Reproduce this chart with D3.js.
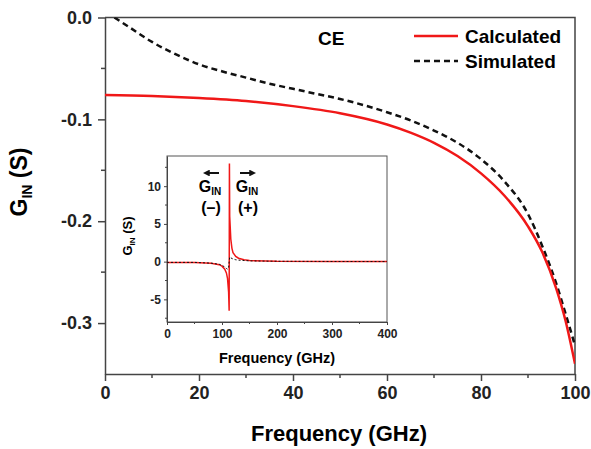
<!DOCTYPE html>
<html>
  <head>
    <meta charset="utf-8">
    <title>GIN vs frequency</title>
    <script src="https://d3js.org/d3.v7.min.js"></script>
    <style>
      body { margin: 0; background: #fff; }
      svg { font-family: Arial, "Liberation Sans", sans-serif; }
      .tick text { font-weight: bold; fill: #222; }
      .domain, .tick line { stroke: #444; }
    </style>
  </head>
  <body>
    <svg id="chart" width="591" height="449"></svg>
    <script>
      // main plot: frequency (GHz) vs G_IN (S)
      var calcFreq = [0, 10, 20, 30, 40, 50, 60, 65, 70, 75, 80, 85, 90, 93, 96, 98, 100];
      var calcG = [-0.076, -0.077, -0.079, -0.082, -0.087, -0.094, -0.105, -0.113, -0.123, -0.136, -0.153, -0.175, -0.205, -0.230, -0.266, -0.298, -0.340];
      var simFreq = [2, 5, 10, 15, 20, 25, 30, 35, 40, 45, 50, 55, 60, 65, 70, 75, 80, 85, 90, 93, 96, 98, 100];
      var simG = [0, -0.009, -0.024, -0.036, -0.046, -0.053, -0.059, -0.065, -0.070, -0.075, -0.080, -0.086, -0.093, -0.101, -0.111, -0.123, -0.139, -0.161, -0.193, -0.224, -0.261, -0.291, -0.322];
      var xTicks = [0, 20, 40, 60, 80, 100];
      var yTicks = [0, -0.1, -0.2, -0.3];
      // inset: wide sweep
      var insetCalcFreq = [0, 50, 80, 95, 100, 105, 108, 110, 112, 113, 113.5, 114, 116, 118, 120, 125, 130, 140, 150, 200, 300, 400];
      var insetCalcG = [-0.1, -0.1, -0.2, -0.4, -0.6, -1.0, -1.5, -2.2, -4, -6.5, 13, 6, 3, 1.8, 1.2, 0.7, 0.45, 0.25, 0.15, 0.05, 0.02, 0.01];
      var insetSimFreq = [0, 50, 80, 95, 100, 105, 108, 110, 112, 113, 114, 116, 120, 125, 130, 150, 200, 300, 400];
      var insetSimG = [-0.1, -0.1, -0.2, -0.35, -0.5, -0.7, -0.9, -1.0, -0.8, 0, 0.6, 0.5, 0.35, 0.25, 0.2, 0.1, 0.05, 0.02, 0.01];
      var insetXTicks = [0, 100, 200, 300, 400];
      var insetYTicks = [-5, 0, 5, 10];

      svg = d3.select("#chart");
      hyphen = function(f) { return function(d) { return f(d).replace("\u2212", "-"); }; };

      // main scales
      x = d3.scaleLinear().domain([0, 100]).range([105, 575]);
      y = d3.scaleLinear().domain([-0.35, 0]).range([374, 17.5]);

      svg.append("defs").append("clipPath")
          .attr("id", "clip")
        .append("rect")
          .attr("x", 105).attr("y", 17.5)
          .attr("width", 470).attr("height", 356.5);

      // frame (top + right)
      svg.append("path")
        .attr("d", "M105,17.5H575V374")
        .attr("fill", "none")
        .attr("stroke", "#444")
        .attr("stroke-width", 1.5);

      xAxis = svg.append("g")
        .attr("transform", "translate(0,374)")
        .call(d3.axisBottom(x).tickValues(xTicks).tickFormat(d3.format("d")).tickSize(7).tickSizeOuter(0).tickPadding(5));
      xAxis.selectAll(".tick text").style("font-size", "18px");
      xAxis.selectAll(".minor")
          .data([10, 30, 50, 70, 90])
        .enter().append("line")
          .attr("x1", x).attr("x2", x)
          .attr("y1", 0).attr("y2", 4)
          .attr("stroke", "#444").attr("stroke-width", 1.5);

      yAxis = svg.append("g")
        .attr("transform", "translate(105,0)")
        .call(d3.axisLeft(y).tickValues(yTicks).tickFormat(hyphen(d3.format(".1f"))).tickSize(7).tickSizeOuter(0).tickPadding(6));
      yAxis.selectAll(".tick text").style("font-size", "18px");
      yAxis.selectAll(".minor")
          .data([-0.05, -0.15, -0.25])
        .enter().append("line")
          .attr("y1", y).attr("y2", y)
          .attr("x1", 0).attr("x2", -4)
          .attr("stroke", "#444").attr("stroke-width", 1.5);
      svg.selectAll(".domain").attr("stroke-width", 1.5);
      svg.selectAll(".tick line").attr("stroke-width", 1.5);

      // axis titles
      svg.append("text")
        .attr("x", 339).attr("y", 441)
        .attr("text-anchor", "middle")
        .style("font-size", "22px").style("font-weight", "bold")
        .text("Frequency (GHz)");
      yTitle = svg.append("text")
        .attr("transform", "translate(27,182) rotate(-90)")
        .attr("text-anchor", "middle")
        .style("font-size", "23px").style("font-weight", "bold");
      yTitle.append("tspan").text("G");
      yTitle.append("tspan").attr("dy", 5).style("font-size", "14px").text("IN");
      yTitle.append("tspan").attr("dy", -5).text(" (S)");

      // curves
      line = d3.line()
        .x(function(d) { return x(d[0]); })
        .y(function(d) { return y(d[1]); })
        .curve(d3.curveMonotoneX);
      plot = svg.append("g").attr("clip-path", "url(#clip)");
      plot.append("path")
        .datum(simFreq.map(function(f, i) { return [f, simG[i]]; }))
        .attr("d", line)
        .attr("fill", "none")
        .attr("stroke", "#111")
        .attr("stroke-width", 2.5)
        .attr("stroke-dasharray", "6,4");
      plot.append("path")
        .datum(calcFreq.map(function(f, i) { return [f, calcG[i]]; }))
        .attr("d", line)
        .attr("fill", "none")
        .attr("stroke", "#f01818")
        .attr("stroke-width", 2.5);

      // label + legend
      svg.append("text")
        .attr("x", 318).attr("y", 45)
        .style("font-size", "19px").style("font-weight", "bold")
        .text("CE");
      legend = svg.append("g");
      legend.append("line")
        .attr("x1", 414).attr("x2", 458).attr("y1", 36).attr("y2", 36)
        .attr("stroke", "#f01818").attr("stroke-width", 2.5);
      legend.append("line")
        .attr("x1", 414).attr("x2", 458).attr("y1", 61).attr("y2", 61)
        .attr("stroke", "#111").attr("stroke-width", 2.5)
        .attr("stroke-dasharray", "6,4");
      legend.append("text")
        .attr("x", 465).attr("y", 43)
        .style("font-size", "19px").style("font-weight", "bold")
        .text("Calculated");
      legend.append("text")
        .attr("x", 465).attr("y", 68)
        .style("font-size", "19px").style("font-weight", "bold")
        .text("Simulated");

      // inset
      ix = d3.scaleLinear().domain([0, 400]).range([167, 387]);
      iy = d3.scaleLinear().domain([-8, 14]).range([322, 156]);
      inset = svg.append("g");
      inset.append("rect")
        .attr("x", 167).attr("y", 156)
        .attr("width", 220).attr("height", 166)
        .attr("fill", "#fff")
        .attr("stroke", "#555")
        .attr("stroke-width", 1);
      ixAxis = inset.append("g")
        .attr("transform", "translate(0,322)")
        .call(d3.axisBottom(ix).tickValues(insetXTicks).tickSize(3).tickSizeOuter(0).tickPadding(4));
      ixAxis.selectAll(".tick text").style("font-size", "12px");
      ixAxis.selectAll(".minor")
          .data([50, 150, 250, 350])
        .enter().append("line")
          .attr("x1", ix).attr("x2", ix)
          .attr("y1", 0).attr("y2", 2)
          .attr("stroke", "#444");
      iyAxis = inset.append("g")
        .attr("transform", "translate(167,0)")
        .call(d3.axisLeft(iy).tickValues(insetYTicks).tickFormat(hyphen(d3.format("d"))).tickSize(3).tickSizeOuter(0).tickPadding(3));
      iyAxis.selectAll(".tick text").style("font-size", "12px");
      iyAxis.selectAll(".minor")
          .data([-7.5, -2.5, 2.5, 7.5, 12.5])
        .enter().append("line")
          .attr("y1", iy).attr("y2", iy)
          .attr("x1", 0).attr("x2", -2)
          .attr("stroke", "#444");

      inset.append("text")
        .attr("x", 277).attr("y", 363)
        .attr("text-anchor", "middle")
        .style("font-size", "14.5px").style("font-weight", "bold")
        .text("Frequency (GHz)");
      iyTitle = inset.append("text")
        .attr("transform", "translate(132,236) rotate(-90)")
        .attr("text-anchor", "middle")
        .style("font-size", "13px").style("font-weight", "bold");
      iyTitle.append("tspan").text("G");
      iyTitle.append("tspan").attr("dy", 3).style("font-size", "8px").text("IN");
      iyTitle.append("tspan").attr("dy", -3).text(" (S)");

      iline = d3.line()
        .x(function(d) { return ix(d[0]); })
        .y(function(d) { return iy(d[1]); });
      inset.append("path")
        .datum(insetCalcFreq.map(function(f, i) { return [f, insetCalcG[i]]; }))
        .attr("d", iline)
        .attr("fill", "none")
        .attr("stroke", "#f01818")
        .attr("stroke-width", 1.5);
      inset.append("path")
        .datum(insetSimFreq.map(function(f, i) { return [f, insetSimG[i]]; }))
        .attr("d", iline)
        .attr("fill", "none")
        .attr("stroke", "#111")
        .attr("stroke-width", 1)
        .attr("stroke-dasharray", "2,2");

      // G_IN (-) / (+) annotation
      svg.append("defs").append("marker")
          .attr("id", "head")
          .attr("viewBox", "0 0 10 10")
          .attr("refX", 4).attr("refY", 5)
          .attr("markerWidth", 3.4).attr("markerHeight", 3.4)
          .attr("orient", "auto")
        .append("path")
          .attr("d", "M0,0L10,5L0,10Z")
          .attr("fill", "#111");
      [[219, 207, 211, "(\u2013)"], [240, 252, 248, "(+)"]].forEach(function(a) {
        inset.append("line")
          .attr("x1", a[0]).attr("x2", a[1])
          .attr("y1", 173).attr("y2", 173)
          .attr("stroke", "#111").attr("stroke-width", 2)
          .attr("marker-end", "url(#head)");
        g = inset.append("text")
          .attr("x", a[2] - 1).attr("y", 192)
          .attr("text-anchor", "middle")
          .style("font-size", "16px").style("font-weight", "bold");
        g.append("tspan").text("G");
        g.append("tspan").attr("dy", 3).style("font-size", "10px").text("IN");
        inset.append("text")
          .attr("x", a[2]).attr("y", 213)
          .attr("text-anchor", "middle")
          .style("font-size", "16px").style("font-weight", "bold")
          .text(a[3]);
      });
    </script>
  </body>
</html>
